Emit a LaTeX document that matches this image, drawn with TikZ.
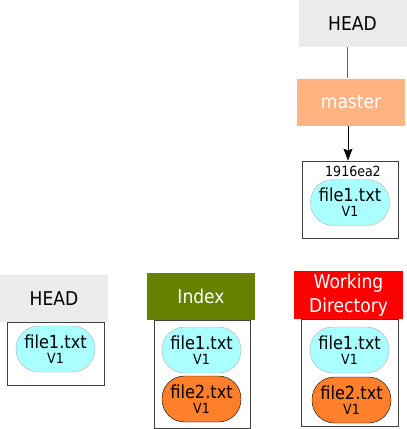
\documentclass[tikz,border=0pt]{standalone}
\usepackage{fontspec}
\setmainfont{DejaVu Sans Condensed}
\usetikzlibrary{arrows.meta}

\definecolor{headgray}{HTML}{EBEBEB}
\definecolor{masterorange}{HTML}{FFB380}
\definecolor{indexgreen}{HTML}{668000}
\definecolor{wdred}{HTML}{FF0000}
\definecolor{filecyan}{HTML}{AAFFFF}
\definecolor{fileorange}{HTML}{FF7F2A}

\tikzset{
  header/.style={minimum width=108pt, minimum height=47pt, inner sep=0pt,
    align=center, font=\fontsize{19}{24}\selectfont},
  tree/.style={draw=black!75, thick, minimum width=96pt, inner sep=0pt},
  blob/.style={rounded corners=22.5pt, minimum width=79pt, minimum height=46pt,
    inner sep=0pt, align=center, font=\fontsize{18}{15}\selectfont},
}
\newcommand{\vone}{{\fontsize{14}{15}\selectfont V1}}

\begin{document}
\begin{tikzpicture}[x=1pt,y=-1pt]
\useasboundingbox (0,0) rectangle (407,429);

% top: HEAD -> master -> commit
\node[header, fill=headgray] (head) at (352.5,23.5) {HEAD};
\node[header, fill=masterorange, text=white] (master) at (351,102) {master};
\node[tree, minimum height=77pt] (commit) at (350,199.5) {};
\node[font=\fontsize{14}{16}\selectfont] (hash) at (353,171) {1916ea2};
\node[blob, draw=black!30, fill=filecyan] (cfile1) at (350,202.5)
  {file1.txt\\\vone};
\draw[black!60, thick] (head.south -| 347.5,0) -- (master.north -| 347.5,0);
\draw[-{Stealth[length=12pt,width=9pt,inset=2pt]}, thick] (master.south -| 348,0) -- (commit.north -| 348,0);

% bottom left: HEAD tree
\node[tree, minimum width=97pt, minimum height=63pt] (htree) at (55.5,353.5) {};
\node[header, fill=headgray] (hhead) at (54,298.5) {HEAD};
\node[blob, draw=black!30, fill=filecyan] (hfile1) at (55.5,349)
  {file1.txt\\\vone};

% index
\node[tree, minimum height=108pt] (itree) at (202,374) {};
\node[header, fill=indexgreen, text=white] (index) at (201,296.5) {Index};
\node[blob, draw=black!30, fill=filecyan] (ifile1) at (201.5,350)
  {file1.txt\\\vone};
\node[blob, draw=black, fill=fileorange] (ifile2) at (201.5,399)
  {file2.txt\\\vone};

% working directory
\node[tree, minimum width=97pt, minimum height=107pt] (wtree) at (349.5,372.5) {};
\node[header, minimum width=109pt, minimum height=48pt, fill=wdred, text=white]
  (wd) at (348.5,295) {Working\\Directory};
\node[blob, draw=black!30, fill=filecyan] (wfile1) at (349.5,350)
  {file1.txt\\\vone};
\node[blob, draw=black, fill=fileorange] (wfile2) at (351.5,400)
  {file2.txt\\\vone};
\end{tikzpicture}
\end{document}
